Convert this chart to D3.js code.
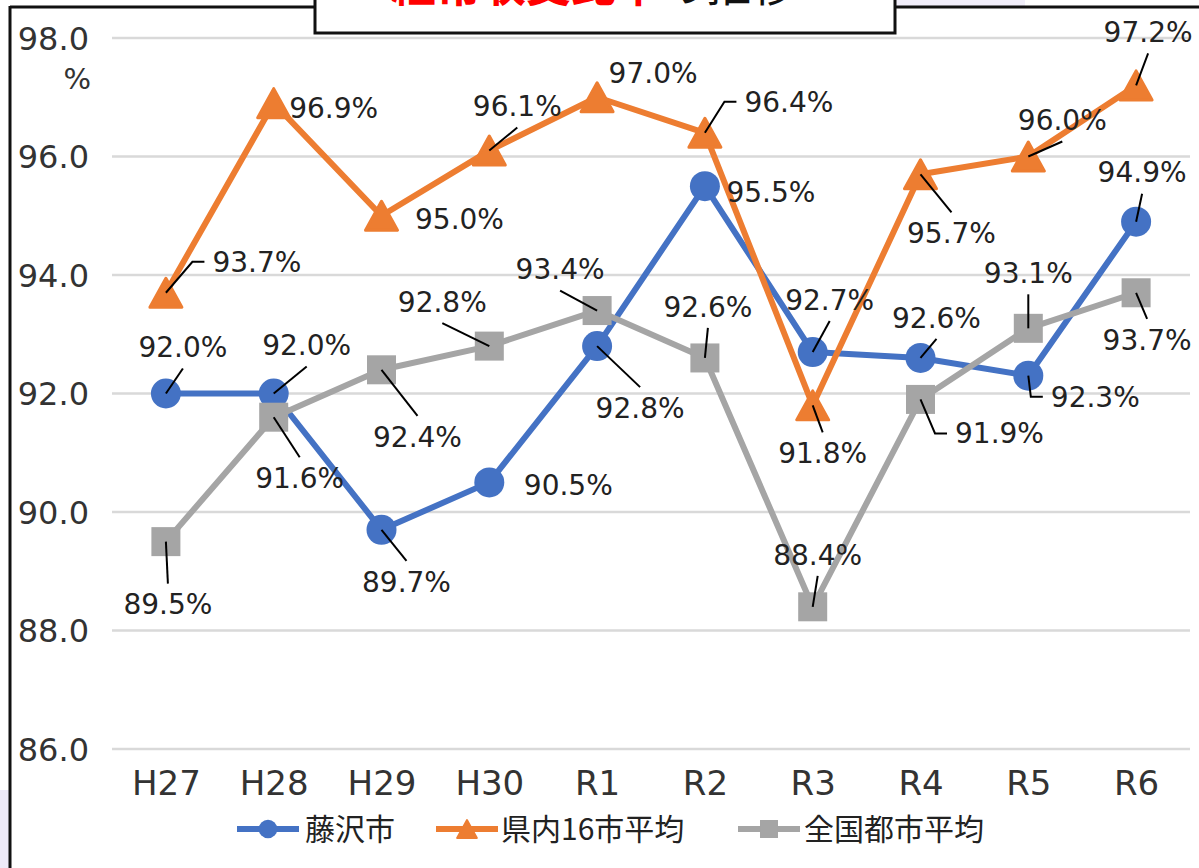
<!DOCTYPE html>
<html><head><meta charset="utf-8">
<script src="https://cdn.jsdelivr.net/npm/d3@7"></script>
<style>body{margin:0;background:#fff;overflow:hidden} svg{display:block}</style>
</head><body>
<script>
// ---- data ----
const categories = ["H27","H28","H29","H30","R1","R2","R3","R4","R5","R6"];
const fujisawa    = [92.0, 92.0, 89.7, 90.5, 92.8, 95.5, 92.7, 92.6, 92.3, 94.9];
const prefAvg     = [93.7, 96.9, 95.0, 96.1, 97.0, 96.4, 91.8, 95.7, 96.0, 97.2];
const nationalAvg = [89.5, 91.6, 92.4, 92.8, 93.4, 92.6, 88.4, 91.9, 93.1, 93.7];
const seriesNames = ["藤沢市", "県内16市平均", "全国都市平均"];
const yTicks = [86, 88, 90, 92, 94, 96, 98];
const yUnit = "%";
const titleRed = "経常収支比率";
const titleBlack = "の推移";

// ---- label layout (offset of label centre from its point, leader type) ----
const labelLayoutFujisawa = [[17,-46,"v"],[33,-48,"v"],[25,52,"v"],[79,3,"n"],[43,62,"v"],[66,6,"n"],[17,-52,"v"],[16,-40,"v"],[67,21,"e"],[6,-49,"v"]];
const labelLayoutPref     = [[91,-31,"e"],[60,5,"n"],[78,3,"n"],[28,-44,"v"],[56,-24,"n"],[84,-31,"e"],[10,48,"v"],[31,59,"v"],[34,-36,"v"],[12,-53,"v"]];
const labelLayoutNational = [[2,63,"v"],[26,61,"v"],[36,67,"v"],[-47,-44,"v"],[-37,-41,"v"],[3,-51,"v"],[5,-52,"v"],[79,34,"e"],[0,-55,"v"],[11,47,"v"]];

const W = 1199, H = 868;
const svg = d3.select("body").append("svg").attr("width", W).attr("height", H);
const font = "'DejaVu Sans', sans-serif";
const cjk = "'Noto Sans CJK JP', sans-serif";

// page decoration
svg.append("rect").attr("x",0).attr("y",0).attr("width",W).attr("height",H).attr("fill","#fff");
svg.append("rect").attr("x",0).attr("y",790).attr("width",10).attr("height",78).attr("fill","#EEEAF8");
svg.append("rect").attr("x",895).attr("y",0).attr("width",130).attr("height",7).attr("fill","#F1EEFA");
svg.append("line").attr("x1",10).attr("x2",W).attr("y1",7).attr("y2",7).attr("stroke","#111").attr("stroke-width",3);
svg.append("line").attr("x1",10).attr("x2",10).attr("y1",6).attr("y2",H).attr("stroke","#111").attr("stroke-width",3);

// title box (cut at top, as in the source)
svg.append("rect").attr("x",315).attr("y",-10).attr("width",580).attr("height",43)
  .attr("fill","#fff").attr("stroke","#111").attr("stroke-width",3);
const tt = svg.append("text").attr("x",391).attr("y",2).attr("font-family",cjk).attr("font-size",45).attr("font-weight","bold");
tt.append("tspan").attr("fill","#FF0000").text(titleRed);
tt.append("tspan").attr("fill","#111").attr("font-weight","normal").text(titleBlack);

// scales
const x = d3.scalePoint().domain(categories).range([112, 1190]).padding(0.5);
const y = d3.scaleLinear().domain([86, 98]).range([749, 38]);

// gridlines
svg.append("g").selectAll("line").data(yTicks).join("line")
  .attr("x1",112).attr("x2",1190).attr("y1",d=>y(d)).attr("y2",d=>y(d))
  .attr("stroke","#D9D9D9").attr("stroke-width",2.5);

// y axis
const yAxis = d3.axisLeft(y).tickValues(yTicks).tickFormat(d3.format(".1f")).tickSize(0).tickPadding(0);
const gy = svg.append("g").attr("transform","translate(89,0)").call(yAxis);
gy.select(".domain").remove();
gy.selectAll("text").attr("font-family",font).attr("font-size",32).attr("fill","#333").attr("dy","0.35em");
svg.append("text").attr("x",91).attr("y",y(98)+41).attr("text-anchor","end").attr("dominant-baseline","central")
  .attr("font-family",font).attr("font-size",29).attr("fill","#333").text(yUnit);

// x axis
const xAxis = d3.axisBottom(x).tickSize(0).tickPadding(0);
const gx = svg.append("g").attr("transform","translate(0,783)").call(xAxis);
gx.select(".domain").remove();
gx.selectAll("text").attr("font-family",font).attr("font-size",34).attr("fill","#333").attr("dy","0.35em");

// series
const series = [
  {name: seriesNames[0], values: fujisawa,    color: "#4472C4", shape: "circle",   layout: labelLayoutFujisawa},
  {name: seriesNames[1], values: prefAvg,     color: "#ED7D31", shape: "triangle", layout: labelLayoutPref},
  {name: seriesNames[2], values: nationalAvg, color: "#A5A5A5", shape: "square",   layout: labelLayoutNational}
];

function marker(g, shape, color, s) {
  if (shape === "circle") {
    g.append("circle").attr("r", 15*s).attr("fill", color);
  } else if (shape === "square") {
    g.append("rect").attr("x",-14.5*s).attr("y",-14.5*s).attr("width",29*s).attr("height",29*s).attr("fill",color);
  } else {
    const w = 32*s, h = 29*s;
    g.append("path").attr("d",`M0,${-h/2}L${w/2},${h/2}L${-w/2},${h/2}Z`)
      .attr("fill",color).attr("stroke",color).attr("stroke-width",3*s).attr("stroke-linejoin","round");
  }
}

const line = d3.line().x((d,i)=>x(categories[i])).y(d=>y(d));
series.forEach(s => {
  const g = svg.append("g");
  g.append("path").datum(s.values).attr("d", line).attr("fill","none")
    .attr("stroke", s.color).attr("stroke-width", 6).attr("stroke-linejoin","round");
  s.values.forEach((v,i) => {
    const mg = g.append("g").attr("transform", `translate(${x(categories[i])},${y(v)})`);
    marker(mg, s.shape, s.color, 1);
  });
});

// data labels with leader lines
const labelG = svg.append("g");
series.forEach(s => {
  s.values.forEach((v,i) => {
    const px = x(categories[i]), py = y(v);
    const [dx, dy, type] = s.layout[i];
    const cx = px + dx, cy = py + dy;
    const t = labelG.append("text").attr("x",cx).attr("y",cy).attr("text-anchor","middle")
      .attr("dy","0.35em").attr("font-family",font).attr("font-size",28).attr("fill","#222")
      .text(d3.format(".1f")(v) + "%");
    const tw = t.node().getComputedTextLength();
    if (type === "v") {
      const ey = cy + (dy < 0 ? 21 : -21);
      labelG.append("line").attr("x1",px).attr("y1",py).attr("x2",cx).attr("y2",ey)
        .attr("stroke","#000").attr("stroke-width",2);
    } else if (type === "e") {
      const left = cx - tw/2;
      labelG.append("path").attr("d",`M${px},${py}L${left-20},${cy}L${left-8},${cy}`)
        .attr("fill","none").attr("stroke","#000").attr("stroke-width",2);
    }
  });
});

// legend
const legendItems = [
  {x0: 237, tx: 305}, {x0: 436, tx: 501}, {x0: 738, tx: 804}
];
series.forEach((s, k) => {
  const lg = svg.append("g").attr("transform", `translate(0,829)`);
  const L = legendItems[k];
  lg.append("line").attr("x1",L.x0).attr("x2",L.x0+62).attr("y1",0).attr("y2",0)
    .attr("stroke",s.color).attr("stroke-width",6);
  const mg = lg.append("g").attr("transform",`translate(${L.x0+31},0)`);
  marker(mg, s.shape, s.color, 0.62);
  lg.append("text").attr("x",L.tx).attr("y",0).attr("dy","0.35em")
    .attr("font-family",cjk).attr("font-size",30).attr("fill","#222").text(s.name);
});
</script>
</body></html>
